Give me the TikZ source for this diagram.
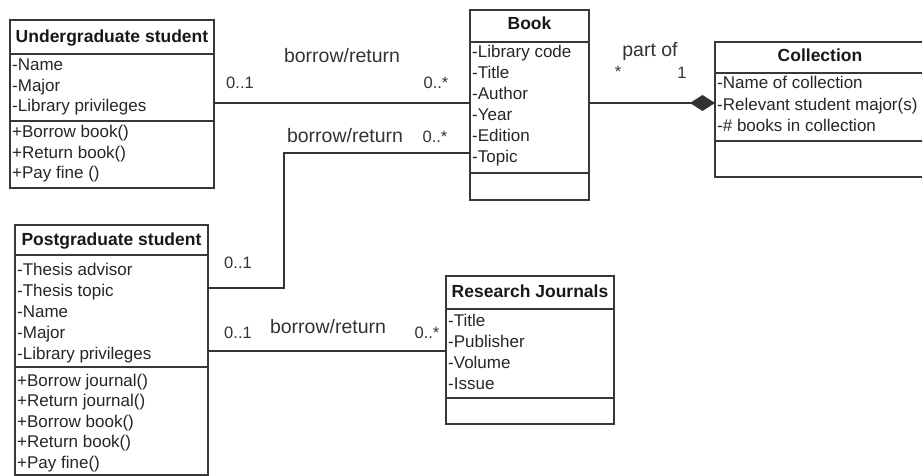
\documentclass[tikz,border=0pt]{standalone}
\usepackage{fontspec}
\setmainfont{Liberation Sans}
\usetikzlibrary{arrows.meta}
\begin{document}
\begin{tikzpicture}[x=1pt,y=-1pt,
  frame/.style={draw=black!78, line width=1.5pt, inner sep=0pt, outer sep=0pt, anchor=north west},
  sep/.style={draw=black!78, line width=1.5pt},
  item/.style={anchor=base west, inner sep=0pt, font=\fontsize{17}{19}\selectfont, text=black!85},
  title/.style={anchor=base, inner sep=0pt, font=\fontsize{17.5}{19}\selectfont\bfseries, text=black!90},
  lbl/.style={anchor=base, inner sep=0pt, font=\fontsize{19.5}{21}\selectfont, text=black!80},
  mult/.style={anchor=base, inner sep=0pt, font=\fontsize{16.5}{18}\selectfont, text=black!80},
  assoc/.style={draw=black!80, line width=1.2pt},
]
\useasboundingbox (0,0) rectangle (922,476);

% ---------- Undergraduate student ----------
\node[frame, minimum width=204pt, minimum height=168pt] (ug) at (10,20) {};
\draw[sep] (10,54) -- (214,54) (10,121) -- (214,121);
\node[title] (ug-t) at (112,43) {Undergraduate student};
\foreach \t [count=\i from 0] in {-Name,-Major,-Library privileges}
  \node[item] (ug-a\i) at (12,71+20.5*\i) {\t};
\foreach \t [count=\i from 0] in {+Borrow book(),+Return book(),+Pay fine ()}
  \node[item] (ug-m\i) at (12,138+20.5*\i) {\t};

% ---------- Book ----------
\node[frame, minimum width=119pt, minimum height=190pt] (book) at (470,10) {};
\draw[sep] (470,42) -- (589,42) (470,173) -- (589,173);
\node[title] (book-t) at (529.5,30) {Book};
\foreach \t [count=\i from 0] in {-Library code,-Title,-Author,-Year,-Edition,-Topic}
  \node[item] (book-a\i) at (472,58+21*\i) {\t};

% ---------- Collection ----------
\node[frame, minimum width=212pt, minimum height=135pt] (col) at (715,42) {};
\draw[sep] (715,73) -- (927,73) (715,141) -- (927,141);
\node[title] (col-t) at (820,62) {Collection};
\foreach \t [count=\i from 0] in {-Name of collection,-Relevant student major(s),-\# books in collection}
  \node[item] (col-a\i) at (717,89+21.5*\i) {\t};

% ---------- Postgraduate student ----------
\node[frame, minimum width=193pt, minimum height=250pt] (pg) at (15,225) {};
\draw[sep] (15,255) -- (208,255) (15,367) -- (208,367);
\node[title] (pg-t) at (111.5,246) {Postgraduate student};
\foreach \t [count=\i from 0] in {-Thesis advisor,-Thesis topic,-Name,-Major,-Library privileges}
  \node[item] (pg-a\i) at (17,275+21*\i) {\t};
\foreach \t [count=\i from 0] in {+Borrow journal(),+Return journal(),+Borrow book(),+Return book(),+Pay fine()}
  \node[item] (pg-m\i) at (17,386+20.5*\i) {\t};

% ---------- Research Journals ----------
\node[frame, minimum width=168pt, minimum height=148pt] (rj) at (446,276) {};
\draw[sep] (446,309) -- (614,309) (446,398) -- (614,398);
\node[title] (rj-t) at (530,297) {Research Journals};
\foreach \t [count=\i from 0] in {-Title,-Publisher,-Volume,-Issue}
  \node[item] (rj-a\i) at (448,326+21*\i) {\t};

% ---------- Associations ----------
\draw[assoc] (ug.north east |- 0,103) -- (book.north west |- 0,103);
\node[lbl] (l1) at (342,63) {borrow/return};
\node[mult] (m1a) at (240,89) {0..1};
\node[mult] (m1b) at (436,89) {0..*};

\draw[assoc] (pg.north east |- 0,288) -| (284,153) -- (book.north west |- 0,153);
\node[lbl] (l2) at (345,143) {borrow/return};
\node[mult] (m2a) at (238,269) {0..1};
\node[mult] (m2b) at (435,143) {0..*};

\draw[assoc] (pg.north east |- 0,351) -- (rj.north west |- 0,351);
\node[lbl] (l3) at (328,333) {borrow/return};
\node[mult] (m3a) at (238,338) {0..1};
\node[mult] (m3b) at (427,338) {0..*};

\draw[assoc, -{Diamond[length=25pt, width=16pt]}] (book.north east |- 0,103) -- (col.north west |- 0,103);
\node[lbl] (l4) at (650,57) {part of};
\node[mult] (m4a) at (618,78) {*};
\node[mult] (m4b) at (682,79) {1};
\end{tikzpicture}
\end{document}
